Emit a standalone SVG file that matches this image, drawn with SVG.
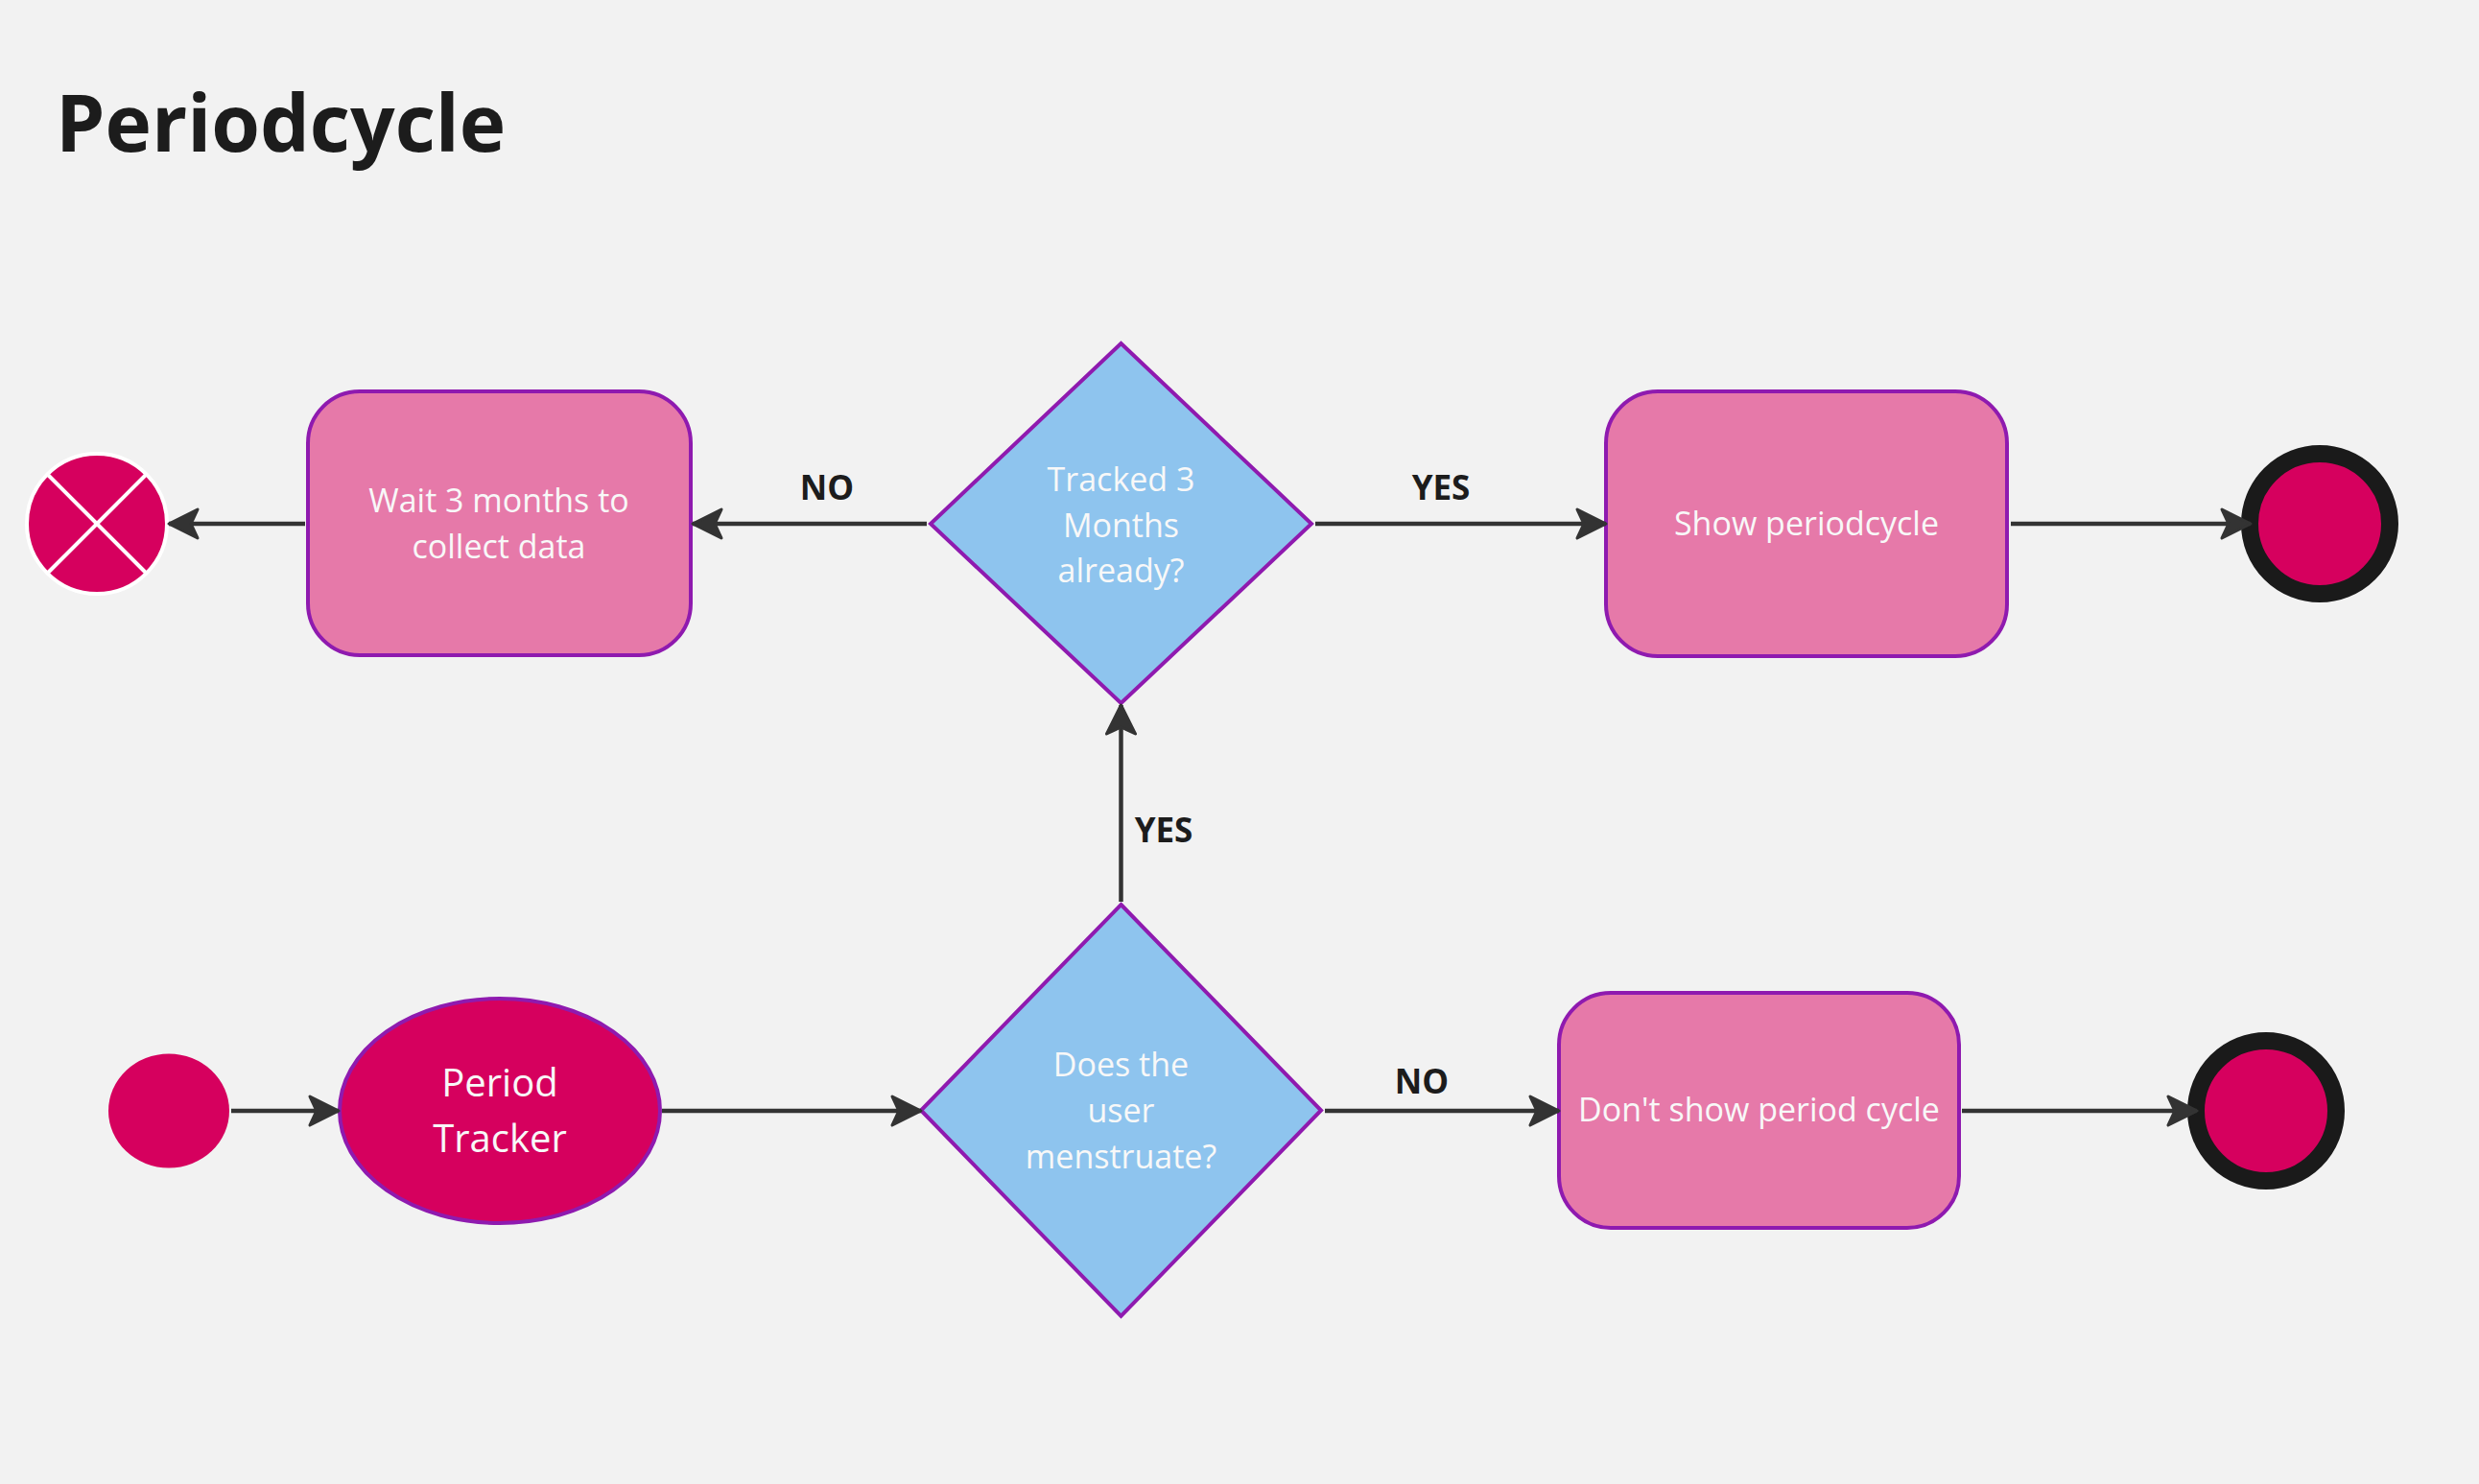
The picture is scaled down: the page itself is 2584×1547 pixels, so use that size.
<svg xmlns="http://www.w3.org/2000/svg" width="2584" height="1547" viewBox="0 0 2584 1547">
  <defs>
    <style>
      .title { font-family: "Open Sans", "Noto Sans", sans-serif; font-weight: 700; font-size: 82px; fill: #1c1c1c; }
      .node-text { font-family: "Open Sans", "Noto Sans", sans-serif; font-size: 34px; fill: #f8f8f8; text-anchor: middle; }
      .big-text { font-size: 40px; }
      .label { font-family: "Open Sans", "Noto Sans", sans-serif; font-weight: 700; font-size: 35px; fill: #1c1c1c; text-anchor: middle; }
      .action { fill: #e679a9; stroke: #8f1aaf; stroke-width: 4; }
      .decision { fill: #8ec4ee; stroke: #8f1aaf; stroke-width: 4; stroke-linejoin: miter; }
      .crimson { fill: #d6005e; }
      .final-ring { fill: #d6005e; stroke: #1a1a1a; stroke-width: 18; }
      .edge { stroke: #333333; stroke-width: 4.5; fill: none; marker-end: url(#arrow); }
    </style>
    <marker id="arrow" markerUnits="userSpaceOnUse" markerWidth="44" markerHeight="44" viewBox="-4 -22 40 44" refX="30" refY="0" orient="auto">
      <path d="M0,-15 L30,0 L0,15 L7,0 Z" fill="#333333" stroke="#333333" stroke-width="3" stroke-linejoin="round"/>
    </marker>
  </defs>

  <rect x="0" y="0" width="2584" height="1547" fill="#f2f2f2"/>

  <text class="title" x="58" y="158">Periodcycle</text>

  <!-- top row -->
  <g id="cancel">
    <circle cx="101" cy="546" r="73" class="crimson" stroke="#ffffff" stroke-width="4"/>
    <line x1="49" y1="494" x2="153" y2="598" stroke="#ffffff" stroke-width="4"/>
    <line x1="153" y1="494" x2="49" y2="598" stroke="#ffffff" stroke-width="4"/>
  </g>

  <g id="wait-data">
    <rect x="321" y="408" width="399" height="275" rx="54" ry="54" class="action"/>
    <text class="node-text" x="520" y="534">Wait 3 months to</text>
    <text class="node-text" x="520" y="582">collect data</text>
  </g>

  <g id="tracked-3-months">
    <polygon points="1168.5,358 1367,546 1168.5,733 970,546" class="decision"/>
    <text class="node-text" x="1168.5" y="512">Tracked 3</text>
    <text class="node-text" x="1168.5" y="559.5">Months</text>
    <text class="node-text" x="1168.5" y="607">already?</text>
  </g>

  <g id="show-cycle">
    <rect x="1674" y="408" width="418" height="276" rx="54" ry="54" class="action"/>
    <text class="node-text" x="1883" y="558">Show periodcycle</text>
  </g>

  <g id="end-top">
    <circle cx="2418" cy="546" r="73" class="final-ring"/>
  </g>

  <!-- bottom row -->
  <g id="start">
    <ellipse cx="176" cy="1158" rx="63" ry="59.5" class="crimson"/>
  </g>

  <g id="period-tracker">
    <ellipse cx="521" cy="1158" rx="167" ry="117" class="crimson" stroke="#8f1aaf" stroke-width="4"/>
    <text class="node-text big-text" x="521" y="1143">Period</text>
    <text class="node-text big-text" x="521" y="1201">Tracker</text>
  </g>

  <g id="menstruates">
    <polygon points="1168.5,943 1377,1157.5 1168.5,1372 960,1157.5" class="decision"/>
    <text class="node-text" x="1168.5" y="1122">Does the</text>
    <text class="node-text" x="1168.5" y="1170">user</text>
    <text class="node-text" x="1168.5" y="1218">menstruate?</text>
  </g>

  <g id="no-cycle">
    <rect x="1625" y="1035" width="417" height="245" rx="54" ry="54" class="action"/>
    <text class="node-text" x="1833.5" y="1169">Don't show period cycle</text>
  </g>

  <g id="end-bottom">
    <circle cx="2362" cy="1158" r="73" class="final-ring"/>
  </g>

  <!-- connectors -->
  <g id="connectors">
    <line class="edge" x1="966" y1="546" x2="722" y2="546"/>
    <line class="edge" x1="318" y1="546" x2="176" y2="546"/>
    <line class="edge" x1="1371" y1="546" x2="1674" y2="546"/>
    <line class="edge" x1="2096" y1="546" x2="2346" y2="546"/>
    <line class="edge" x1="241" y1="1158" x2="353" y2="1158"/>
    <line class="edge" x1="690" y1="1158" x2="960" y2="1158"/>
    <line class="edge" x1="1168.5" y1="940" x2="1168.5" y2="735"/>
    <line class="edge" x1="1381" y1="1158" x2="1625" y2="1158"/>
    <line class="edge" x1="2045" y1="1158" x2="2290" y2="1158"/>

    <text class="label" x="862" y="521">NO</text>
    <text class="label" x="1502" y="521">YES</text>
    <text class="label" x="1213" y="878">YES</text>
    <text class="label" x="1482" y="1140">NO</text>
  </g>
</svg>
